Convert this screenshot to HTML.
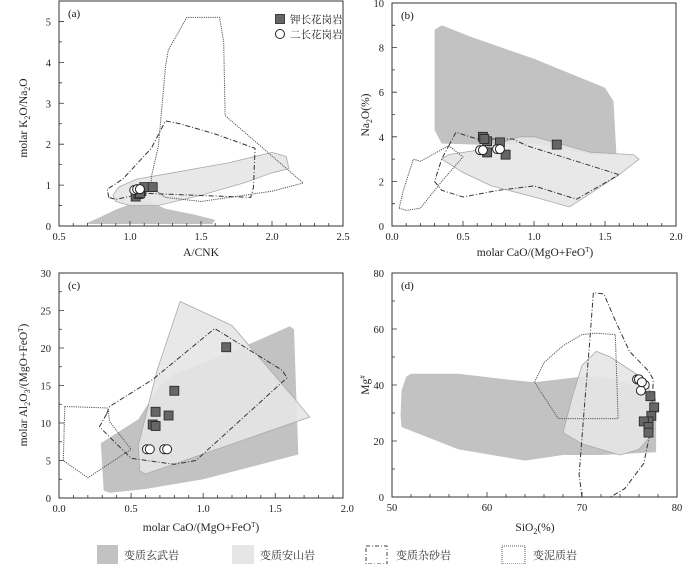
<!DOCTYPE html>
<html><head><meta charset="utf-8"><style>
body{margin:0;background:#fff;width:700px;height:564px;overflow:hidden}
svg{display:block;font-family:"Liberation Serif","Noto Serif CJK SC",serif;}
</style></head><body>
<svg id="chart" width="700" height="564" viewBox="0 0 700 564" xmlns="http://www.w3.org/2000/svg">
<g font-size="11" fill="#333">
<rect x="97" y="545" width="21" height="19" fill="#c2c2c2"/>
<text x="124" y="559">变质玄武岩</text>
<rect x="232" y="545" width="22" height="19" fill="#e6e6e6"/>
<text x="260" y="559">变质安山岩</text>
<rect x="366" y="546" width="21" height="18" fill="none" stroke="#444" stroke-dasharray="4,2,1,2"/>
<text x="396" y="559">变质杂砂岩</text>
<rect x="502" y="546" width="23" height="18" fill="none" stroke="#555" stroke-dasharray="1,1"/>
<text x="533" y="559">变泥质岩</text>
</g>
</svg>
<script>
// Panel (a)
const aSqX=[1.04,1.06,1.08,1.10,1.16,1.07];
const aSqY=[0.72,0.78,0.85,0.95,0.95,0.80];
const aCiX=[1.03,1.05,1.07];
const aCiY=[0.88,0.90,0.90];
const aBasalt=[[0.7,0.08],[0.78,0.2],[0.9,0.4],[1.05,0.6],[1.12,0.62],[1.25,0.42],[1.45,0.28],[1.6,0.15],[1.58,0.05],[0.7,0.05]];
const aAndesite=[[0.88,0.75],[0.92,0.95],[1.05,1.15],[1.3,1.3],[1.7,1.55],[2.0,1.8],[2.1,1.7],[2.12,1.4],[2.0,1.3],[1.8,1.05],[1.5,0.75],[1.2,0.5],[1.0,0.5],[0.9,0.6]];
const aGreywacke=[[0.85,0.7],[0.84,0.9],[0.95,1.15],[1.15,1.9],[1.25,2.57],[1.35,2.5],[1.6,2.25],[1.88,1.9],[1.87,0.95],[1.85,0.7],[1.1,0.8],[0.9,0.65]];
const aPelite=[[1.15,1.2],[1.2,1.95],[1.25,3.9],[1.27,4.3],[1.4,5.1],[1.63,5.1],[1.66,4.5],[1.67,2.7],[2.22,1.05],[2.0,0.85],[1.5,0.6],[1.25,0.7],[1.15,0.95]];
const aXTicks=[0.5,1.0,1.5,2.0,2.5];
const aYTicks=[0,1,2,3,4,5];
// Panel (b)
const bSqX=[0.64,0.67,0.67,0.76,0.80,1.16,0.65];
const bSqY=[4.0,3.8,3.3,3.75,3.2,3.65,3.9];
const bCiX=[0.62,0.64,0.74,0.76];
const bCiY=[3.4,3.4,3.45,3.45];
const bBasalt=[[0.3,4.3],[0.3,8.8],[0.35,9.0],[0.55,8.5],[1.0,7.5],[1.5,6.2],[1.56,5.6],[1.58,3.2],[1.4,3.2],[1.0,3.7],[0.6,3.65],[0.35,3.7]];
const bAndesite=[[0.35,3.0],[0.4,3.2],[0.6,3.4],[0.9,4.0],[1.0,4.0],[1.4,3.3],[1.7,3.2],[1.74,3.0],[1.6,2.3],[1.25,0.85],[1.0,1.3],[0.7,1.8],[0.5,2.4]];
const bGreywacke=[[0.4,3.6],[0.45,4.2],[0.6,3.9],[0.85,3.9],[0.95,3.6],[1.6,2.3],[1.3,1.2],[1.0,1.8],[0.75,1.6],[0.5,1.3],[0.35,1.6],[0.3,2.0],[0.35,3.0]];
const bPelite=[[0.05,0.8],[0.1,0.7],[0.2,0.8],[0.35,2.0],[0.5,3.1],[0.4,3.6],[0.2,2.9],[0.15,3.0],[0.08,1.6]];
const bXTicks=[0.0,0.5,1.0,1.5,2.0];
const bYTicks=[0,2,4,6,8,10];
// Panel (c)
const cSqX=[0.65,0.67,0.67,0.76,0.80,1.16];
const cSqY=[9.8,11.5,9.6,11.0,14.3,20.1];
const cCiX=[0.61,0.63,0.73,0.75];
const cCiY=[6.5,6.5,6.5,6.5];
const cBasalt=[[0.29,7.3],[0.31,1.0],[0.35,0.7],[0.6,1.2],[1.0,2.5],[1.6,5.5],[1.66,5.8],[1.63,22.5],[1.6,22.9],[1.2,19.5],[0.8,16.5],[0.7,15.0],[0.55,10.5]];
const cAndesite=[[0.84,26.2],[1.2,23],[1.6,14],[1.74,10.8],[0.6,3.2],[0.56,3.6],[0.55,7],[0.68,17]];
const cGreywacke=[[0.33,11.2],[0.28,9.5],[0.5,5.3],[0.8,4.5],[0.95,5.0],[1.58,16.0],[1.55,17],[1.08,22.6],[0.65,15.8],[0.35,12.2]];
const cPelite=[[0.04,12.2],[0.34,12],[0.35,10.2],[0.5,6.5],[0.2,2.7],[0.03,5.0]];
const cXTicks=[0.0,0.5,1.0,1.5,2.0];
const cYTicks=[0,5,10,15,20,25,30];
// Panel (d)
const dSqX=[77.2,77.6,77.3,77.0,76.5,77.0,77.0];
const dSqY=[36,32,29,27,27,25,23];
const dCiX=[75.8,76.0,76.6,76.2,76.3];
const dCiY=[42,42,40,38,41];
const dBasalt=[[51,38],[51.5,43],[52,44],[57,44],[62,42],[65,41],[70,43],[72.5,43],[77.3,38],[77.8,35],[77.8,16],[72,15],[68,15],[64,13],[57,17],[51,25],[50.9,29]];
const dAndesite=[[68,23],[69,36],[70,47],[71.5,52],[73,50],[77,41],[77.3,30],[77.3,22],[76,17],[74,15],[70,19]];
const dGreywacke=[[70,0],[69.7,8],[70.2,30],[70.8,55],[71.2,73],[72.3,72.5],[73.5,63],[75,52],[77,45],[77.5,42],[77.3,25],[76.5,12],[74.5,3],[73,0]];
const dPelite=[[65,41],[66,48],[68,54],[70,58],[71.5,58.5],[73.5,58],[73.8,28],[67.5,28]];
const dXTicks=[50,60,70,80];
const dYTicks=[0,20,40,60,80];

const NS='http://www.w3.org/2000/svg';
const svg=document.getElementById('chart');
function mk(tag,attrs,parent){const e=document.createElementNS(NS,tag);for(const k in attrs)e.setAttribute(k,attrs[k]);(parent||svg).appendChild(e);return e;}

function panel(id,L,R,T,B,x0,x1,y0,y1,xt,yt,xMinor,yMinor,fmtX,fmtY,data){
  const g=mk('g',{});
  
  
  const sx=v=>L+(v-x0)/(x1-x0)*(R-L);
  const sy=v=>B-(v-y0)/(y1-y0)*(B-T);
  const cp=mk('clipPath',{id:'clip'+id},g);
  mk('rect',{x:L,y:T,width:R-L,height:B-T},cp);
  const pg=mk('g',{'clip-path':'url(#clip'+id+')'},g);
  const pts=arr=>arr.map(p=>sx(p[0]).toFixed(1)+','+sy(p[1]).toFixed(1)).join(' ');
  const e1=mk('polygon',{points:pts(data.basalt),fill:'#c2c2c2',stroke:'none'},pg);
  
  
  const e2=mk('polygon',{points:pts(data.andesite),fill:'#e6e6e6','fill-opacity':'0.9',stroke:'#aaa','stroke-width':'0.8'},pg);
  
  
  const e3=mk(data.openGrey?'polyline':'polygon',{points:pts(data.greywacke),fill:'none',stroke:'#333','stroke-width':'1','stroke-dasharray':'5,2,1,2'},pg);
  
  
  const e4=mk('polygon',{points:pts(data.pelite),fill:'none',stroke:'#555','stroke-width':'1','stroke-dasharray':'1.2,1'},pg);
  
  
  data.sqX.forEach((v,i)=>{
    const r=mk('rect',{x:sx(v)-4.5,y:sy(data.sqY[i])-4.5,width:9,height:9,fill:'#666',stroke:'#222','stroke-width':'0.8'},pg);
    
    
  });
  data.ciX.forEach((v,i)=>{
    const c=mk('circle',{cx:sx(v),cy:sy(data.ciY[i]),r:4.5,fill:'#fff',stroke:'#222','stroke-width':'1'},pg);
    
    
  });
  const fr=mk('rect',{x:L,y:T,width:R-L,height:B-T,fill:'none',stroke:'#333','stroke-width':'1'},g);
  
  
  // ticks
  let d='';
  for(let v=x0;v<=x1+1e-9;v+=xMinor){const x=sx(v);const major=xt.some(t=>Math.abs(t-v)<1e-6);d+=`M${x},${B}V${B-(major?5:3)}`;}
  for(let v=y0;v<=y1+1e-9;v+=yMinor){const y=sy(v);const major=yt.some(t=>Math.abs(t-v)<1e-6);d+=`M${L},${y}H${L+(major?5:3)}`;}
  mk('path',{d:d,stroke:'#333','stroke-width':'0.8',fill:'none'},g);
  xt.forEach(v=>{const t=mk('text',{x:sx(v),y:B+14,'text-anchor':'middle','font-size':'10.5',fill:'#222'},g);t.textContent=fmtX(v);
    
    });
  yt.forEach(v=>{const t=mk('text',{x:L-8,y:sy(v)+4,'text-anchor':'end','font-size':'10.5',fill:'#222'},g);t.textContent=fmtY(v);
    
    });
  const pl=mk('text',{x:L+9,y:T+16,'font-size':'11',fill:'#111'},g);pl.textContent='('+id+')';
  
  
  return g;
}
const f1=v=>v.toFixed(1), f0=v=>String(v);
panel('a',59,343,1,226,0.5,2.5,0,5.5,aXTicks,aYTicks,0.1,0.5,f1,f0,{sqX:aSqX,sqY:aSqY,ciX:aCiX,ciY:aCiY,basalt:aBasalt,andesite:aAndesite,greywacke:aGreywacke,pelite:aPelite});
panel('b',392,676,3,226,0,2,0,10,bXTicks,bYTicks,0.1,1,f1,f0,{sqX:bSqX,sqY:bSqY,ciX:bCiX,ciY:bCiY,basalt:bBasalt,andesite:bAndesite,greywacke:bGreywacke,pelite:bPelite});
panel('c',59,343,273,498,0,1.97,0,30,cXTicks,cYTicks,0.1,2.5,f1,f0,{sqX:cSqX,sqY:cSqY,ciX:cCiX,ciY:cCiY,basalt:cBasalt,andesite:cAndesite,greywacke:cGreywacke,pelite:cPelite});
panel('d',392,677,273,497,50,80,0,80,dXTicks,dYTicks,2,10,f0,f0,{sqX:dSqX,sqY:dSqY,ciX:dCiX,ciY:dCiY,basalt:dBasalt,andesite:dAndesite,greywacke:dGreywacke,pelite:dPelite,openGrey:true});
</script>
<svg style="position:absolute;left:0;top:0" width="700" height="564" font-family="Liberation Serif, Noto Serif CJK SC, serif" fill="#222">
<g font-size="10.5">
<rect x="275.5" y="14.5" width="9" height="9" fill="#666" stroke="#222" stroke-width="0.8"/>
<text x="290" y="23">钾长花岗岩</text>
<circle cx="280" cy="34" r="4.5" fill="#fff" stroke="#222"/>
<text x="290" y="38">二长花岗岩</text>
</g>
<text x="201" y="256" text-anchor="middle" font-size="11.5">A/CNK</text>
<text transform="translate(27,118) rotate(-90)" text-anchor="middle" font-size="11.5">molar K<tspan font-size="8" dy="3">2</tspan><tspan dy="-3">O/Na</tspan><tspan font-size="8" dy="3">2</tspan><tspan dy="-3">O</tspan></text>
<text x="535" y="256" text-anchor="middle" font-size="11.5">molar CaO/(MgO+FeO<tspan font-size="7" dy="-4">T</tspan><tspan dy="4">)</tspan></text>
<text transform="translate(369,115) rotate(-90)" text-anchor="middle" font-size="11.5">Na<tspan font-size="8" dy="3">2</tspan><tspan dy="-3">O(%)</tspan></text>
<text x="201" y="531" text-anchor="middle" font-size="11.5">molar CaO/(MgO+FeO<tspan font-size="7" dy="-4">T</tspan><tspan dy="4">)</tspan></text>
<text transform="translate(27,385) rotate(-90)" text-anchor="middle" font-size="11.5">molar Al<tspan font-size="8" dy="3">2</tspan><tspan dy="-3">O</tspan><tspan font-size="8" dy="3">3</tspan><tspan dy="-3">/(MgO+FeO</tspan><tspan font-size="7" dy="-4">T</tspan><tspan dy="4">)</tspan></text>
<text x="535" y="531" text-anchor="middle" font-size="11.5">SiO<tspan font-size="8" dy="3">2</tspan><tspan dy="-3">(%)</tspan></text>
<text transform="translate(369,385) rotate(-90)" text-anchor="middle" font-size="11.5">Mg<tspan font-size="7" dy="-4">#</tspan></text>
</svg>
</body></html>
